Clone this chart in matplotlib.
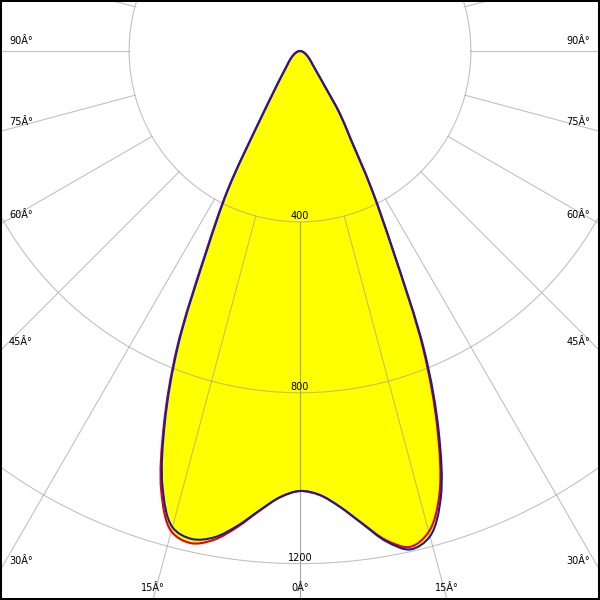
import numpy as np
import matplotlib
matplotlib.use("Agg")
import matplotlib.pyplot as plt
from matplotlib.path import Path
from matplotlib.patches import PathPatch

# polar intensity diagram (cd), angles measured from nadir
ANGLES = [0, 2.5, 5, 7.5, 10, 12.5, 15, 17.5, 20, 22.5, 25, 27.5, 30, 32.5, 35,
          40, 45, 50, 60, 70, 80, 90]

blue_left = [1030, 1045, 1079, 1121, 1156, 1170, 1154, 1070, 925, 745, 518, 362,
             190, 118, 85, 52, 38, 29, 17, 9, 4, 0]
blue_right = [1030, 1040, 1071, 1116, 1166, 1195, 1176, 1096, 950, 762, 518, 362,
              237, 174, 105, 55, 38, 29, 17, 9, 4, 0]
red_left = [1030, 1045, 1080, 1124, 1162, 1180, 1164, 1080, 932, 753, 526, 368,
            195, 122, 87, 52, 38, 29, 17, 9, 4, 0]
red_right = [1030, 1040, 1071, 1115, 1163, 1189, 1165, 1086, 940, 752, 512, 357,
             233, 171, 103, 55, 38, 29, 17, 9, 4, 0]

RINGS = [400, 800, 1200]
RING_LABELS = ["400", "800", "1200"]
SPOKES = list(range(0, 181, 15))
SIDE_LABELS = [90, 75, 60, 45, 30]
BOTTOM_LABELS = [15, 0]

PX = 0.4272          # pixels per cd
CY = 51              # pole height from top, pixels

fig = plt.figure(figsize=(6, 6), dpi=100)
ax = fig.add_axes([0, 0, 1, 1])
x_half = 300 / PX
ax.set_xlim(-x_half, x_half)
ax.set_ylim(-(600 - CY) / PX, CY / PX)
ax.set_xticks([])
ax.set_yticks([])
for sp in ax.spines.values():
    sp.set_linewidth(2.9)
    sp.set_color("black")


def curve_path(left, right):
    a = np.radians(np.concatenate([-np.array(ANGLES[::-1]), np.array(ANGLES[1:])]))
    r = np.concatenate([np.array(left[::-1]), np.array(right[1:])])
    pts = np.column_stack([r * np.sin(a), -r * np.cos(a)])
    # smooth drawing through the read points (centripetal Catmull-Rom -> Bezier)
    ext = np.vstack([2 * pts[0] - pts[1], pts, 2 * pts[-1] - pts[-2]])
    verts = [pts[0]]
    codes = [Path.MOVETO]
    for i in range(1, len(ext) - 2):
        p0, p1, p2, p3 = ext[i - 1], ext[i], ext[i + 1], ext[i + 2]
        d1 = max(np.hypot(*(p1 - p0)), 1e-6) ** 0.5
        d2 = max(np.hypot(*(p2 - p1)), 1e-6) ** 0.5
        d3 = max(np.hypot(*(p3 - p2)), 1e-6) ** 0.5
        b1 = (d1**2 * p2 - d2**2 * p0 + (2 * d1**2 + 3 * d1 * d2 + d2**2) * p1) / (3 * d1 * (d1 + d2))
        b2 = (d3**2 * p1 - d2**2 * p3 + (2 * d3**2 + 3 * d3 * d2 + d2**2) * p2) / (3 * d3 * (d3 + d2))
        verts += [b1, b2, p2]
        codes += [Path.CURVE4] * 3
    return Path(verts, codes)


blue = curve_path(blue_left, blue_right)
red = curve_path(red_left, red_right)
for p in (red, blue):
    ax.add_patch(PathPatch(p, facecolor="#ffff00", edgecolor="none", zorder=1))

# grid
grid_kw = dict(color="#999999", alpha=0.6, lw=0.8, zorder=2)
t = np.linspace(0, 2 * np.pi, 720)
for ring in RINGS:
    ax.plot(ring * np.cos(t), ring * np.sin(t), **grid_kw)
for deg in SPOKES:
    a = np.radians(deg)
    for s in (-1, 1):
        ax.plot([s * RINGS[0] * np.sin(a), s * 3000 * np.sin(a)],
                [-RINGS[0] * np.cos(a), -3000 * np.cos(a)], **grid_kw)

ax.add_patch(PathPatch(red, facecolor="none", edgecolor="#e60000", lw=1.5, zorder=3))
ax.add_patch(PathPatch(blue, facecolor="none", edgecolor="#1a1aa8", lw=1.5, zorder=4))

fs = 7
for ring, lab in zip(RINGS, RING_LABELS):
    ax.annotate(lab, xy=(0, -ring), xytext=(0, 6), textcoords="offset pixels",
                ha="center", va="center", fontsize=fs, zorder=5)

y_bot = ax.get_ylim()[0]
for deg in SIDE_LABELS:
    a = np.radians(deg)
    y_hit = -x_half / np.tan(a) if deg < 90 else 0.0
    ax.annotate(f"{deg}Â°", xy=(-x_half, y_hit), xytext=(9, 9.5),
                textcoords="offset pixels", ha="left", va="center", fontsize=fs)
    ax.annotate(f"{deg}Â°", xy=(x_half, y_hit), xytext=(-10, 9.5),
                textcoords="offset pixels", ha="right", va="center", fontsize=fs)
for deg in BOTTOM_LABELS:
    x_hit = -y_bot * np.tan(np.radians(deg))
    for s in ((-1, 1) if deg else (1,)):
        ax.annotate(f"{deg}Â°", xy=(s * x_hit, y_bot), xytext=(0, 12),
                    textcoords="offset pixels", ha="center", va="center", fontsize=fs)

fig.savefig("out.png", dpi=100)
